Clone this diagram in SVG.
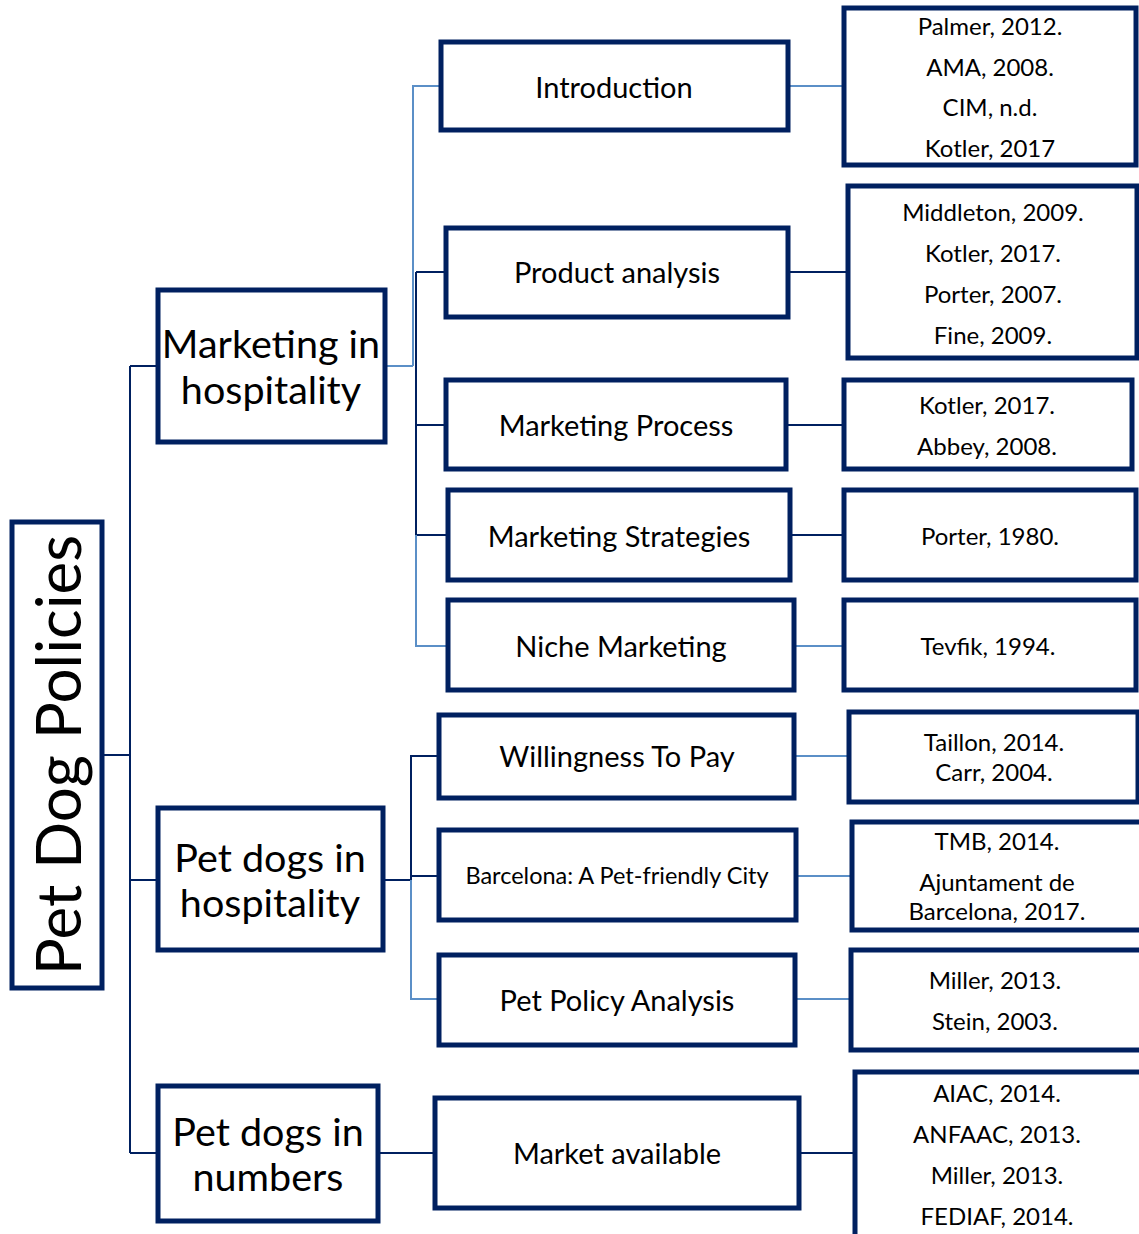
<svg xmlns="http://www.w3.org/2000/svg" width="1139" height="1234" viewBox="0 0 1139 1234">
<style>
.box{fill:#fff;stroke:#002060;stroke-width:5}
.t{font-family:Lato,"Open Sans",sans-serif;fill:#000;text-anchor:middle;dominant-baseline:central}
.big{font-size:39.5px}
.mid{font-size:29px}
.ref{font-size:24px}
.d{stroke:#002060;stroke-width:2;fill:none}
.l{stroke:#5B8FC7;stroke-width:2;fill:none}
</style>
<rect width="1139" height="1234" fill="#fff"/>
<g id="connectors">
<path class="d" d="M102 755H130M130 366V1153M130 366H158M130 880H158M130 1153H158"/>
<path class="l" d="M385 366H413M413 366V86H441"/>
<path class="d" d="M416 272V535M416 272H446M416 425H446M416 535H448"/>
<path class="l" d="M416 535V646H448"/>
<path class="l" d="M788 86H844"/>
<path class="d" d="M788 272H848M786 425H844M790 535H844"/>
<path class="l" d="M794 646H844"/>
<path class="d" d="M383 880H411M411 880V756H439M411 876H439"/>
<path class="l" d="M411 880V999H439"/>
<path class="l" d="M794 756H849M796 876H852M795 999H851"/>
<path class="d" d="M378 1153H435M799 1153H855"/>
</g>
<g id="root"><rect class="box" x="12" y="522" width="90" height="466"/><text class="t" x="0" y="0" style="font-size:62px" transform="translate(57 755) rotate(-90)">Pet Dog Policies</text></g>
<g id="marketing"><rect class="box" x="158" y="290" width="227" height="152"/><text class="t big" x="271" y="342">Marketing in</text><text class="t big" x="271" y="388">hospitality</text></g>
<g id="petdogs-hosp"><rect class="box" x="158" y="808" width="225" height="142"/><text class="t big" x="270" y="856">Pet dogs in</text><text class="t big" x="270" y="901">hospitality</text></g>
<g id="petdogs-num"><rect class="box" x="158" y="1086" width="220" height="135"/><text class="t big" x="268" y="1130">Pet dogs in</text><text class="t big" x="268" y="1175">numbers</text></g>
<g id="intro"><rect class="box" x="441" y="42" width="347" height="88"/><text class="t mid" x="614" y="86">Introduction</text></g>
<g id="product"><rect class="box" x="446" y="228" width="342" height="89"/><text class="t mid" x="617" y="271">Product analysis</text></g>
<g id="process"><rect class="box" x="446" y="380" width="340" height="89"/><text class="t mid" x="616" y="424">Marketing Process</text></g>
<g id="strategies"><rect class="box" x="448" y="490" width="342" height="90"/><text class="t mid" x="619" y="535">Marketing Strategies</text></g>
<g id="niche"><rect class="box" x="448" y="600" width="346" height="90"/><text class="t mid" x="621" y="645">Niche Marketing</text></g>
<g id="wtp"><rect class="box" x="439" y="715" width="355" height="83"/><text class="t mid" x="617" y="755">Willingness To Pay</text></g>
<g id="barcelona"><rect class="box" x="439" y="830" width="357" height="90"/><text class="t" style="font-size:23.5px" x="617" y="875">Barcelona: A Pet-friendly City</text></g>
<g id="policy"><rect class="box" x="439" y="955" width="356" height="90"/><text class="t mid" x="617" y="999">Pet Policy Analysis</text></g>
<g id="market"><rect class="box" x="435" y="1098" width="364" height="110"/><text class="t mid" x="617" y="1152">Market available</text></g>
<g id="ref-intro"><rect class="box" x="844" y="8" width="292" height="157"/><text class="t ref" x="990" y="25">Palmer, 2012.</text><text class="t ref" x="990" y="66">AMA, 2008.</text><text class="t ref" x="990" y="106">CIM, n.d.</text><text class="t ref" x="990" y="147">Kotler, 2017</text></g>
<g id="ref-product"><rect class="box" x="848" y="186" width="289" height="172"/><text class="t ref" x="993" y="211">Middleton, 2009.</text><text class="t ref" x="993" y="252">Kotler, 2017.</text><text class="t ref" x="993" y="293">Porter, 2007.</text><text class="t ref" x="993" y="334">Fine, 2009.</text></g>
<g id="ref-process"><rect class="box" x="844" y="380" width="288" height="89"/><text class="t ref" x="987" y="404">Kotler, 2017.</text><text class="t ref" x="987" y="445">Abbey, 2008.</text></g>
<g id="ref-strategies"><rect class="box" x="844" y="490" width="292" height="90"/><text class="t ref" x="990" y="535">Porter, 1980.</text></g>
<g id="ref-niche"><rect class="box" x="844" y="600" width="292" height="90"/><text class="t ref" x="988" y="645">Tevfik, 1994.</text></g>
<g id="ref-wtp"><rect class="box" x="849" y="712" width="289" height="90"/><text class="t ref" x="994" y="741">Taillon, 2014.</text><text class="t ref" x="994" y="771">Carr, 2004.</text></g>
<g id="ref-barcelona"><rect class="box" x="852" y="822" width="290" height="108"/><text class="t ref" x="997" y="840">TMB, 2014.</text><text class="t ref" x="997" y="881">Ajuntament de</text><text class="t ref" x="997" y="910">Barcelona, 2017.</text></g>
<g id="ref-policy"><rect class="box" x="851" y="950" width="291" height="100"/><text class="t ref" x="995" y="979">Miller, 2013.</text><text class="t ref" x="995" y="1020">Stein, 2003.</text></g>
<g id="ref-market"><rect class="box" x="855" y="1072" width="290" height="170"/><text class="t ref" x="997" y="1092">AIAC, 2014.</text><text class="t ref" x="997" y="1133">ANFAAC, 2013.</text><text class="t ref" x="997" y="1174">Miller, 2013.</text><text class="t ref" x="997" y="1215">FEDIAF, 2014.</text></g>
</svg>
